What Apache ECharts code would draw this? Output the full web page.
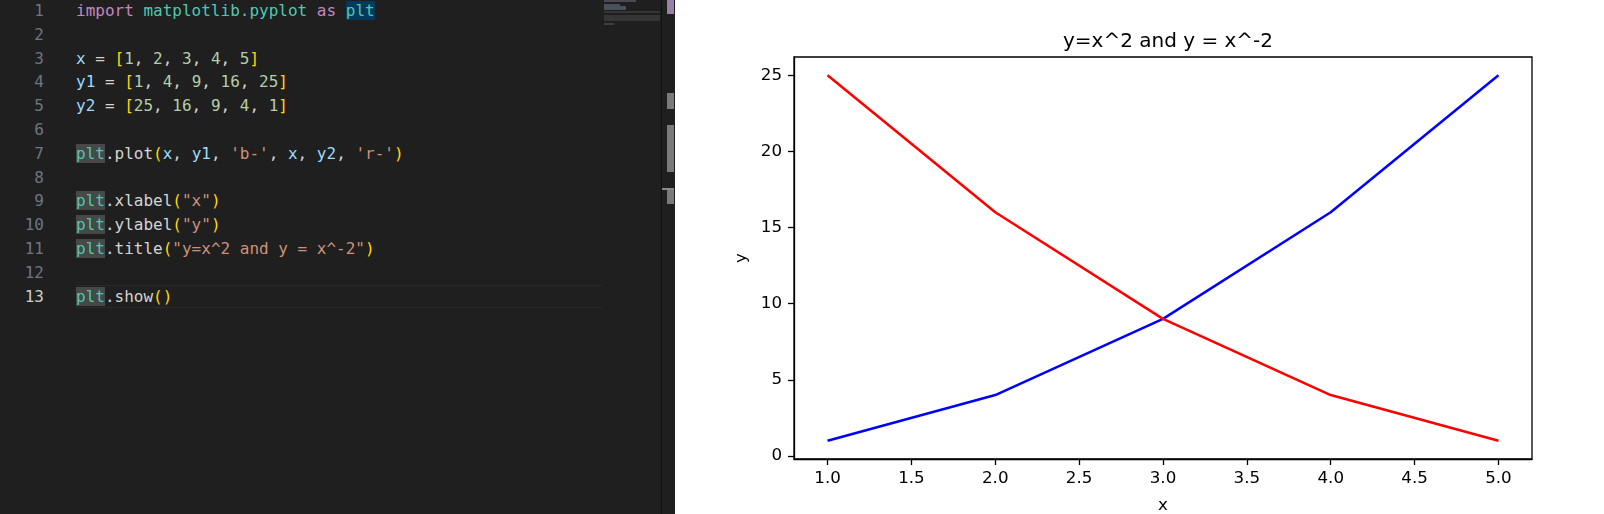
<!DOCTYPE html>
<html>
<head>
<meta charset="utf-8">
<script src="https://cdn.jsdelivr.net/npm/echarts@6/dist/echarts.min.js"></script>
<style>
  html, body { margin: 0; padding: 0; width: 1604px; height: 514px; overflow: hidden; background: #fff; }
  .editor { position: absolute; left: 0; top: 0; width: 675px; height: 514px; background: #1f1f1f; overflow: hidden; }
  .code { position: absolute; left: 0; top: -1px; font-family: "DejaVu Sans Mono", monospace; font-size: 16px; color: #d4d4d4; }
  .line { position: relative; height: 23.8px; line-height: 23.8px; white-space: pre; }
  .ln { position: absolute; left: 0; width: 44px; text-align: right; color: #6e7681; }
  .txt { position: absolute; left: 76px; }
  .cur { position: absolute; left: 76px; width: 526px; top: 0; height: 21px; border-top: 1px solid #2a2a2a; border-bottom: 1px solid #2a2a2a; }
  .kw { color: #c586c0; }
  .mod { color: #4ec9b0; }
  .v { color: #9cdcfe; }
  .n { color: #b5cea8; }
  .s { color: #ce9178; }
  .b { color: #ffd700; }
  .hl { background: #04395e; }
  .occ { background: #484848; }
  .mini { position: absolute; height: 2px; }
  .bar { position: absolute; left: 667px; width: 7px; background: #7a7a7a; }
  #chart { position: absolute; left: 675px; top: 0; width: 929px; height: 514px; }
</style>
</head>
<body>
<div class="editor">
  <div class="code">
    <div class="line"><span class="ln">1</span><span class="txt"><span class="kw">import</span> <span class="mod">matplotlib.pyplot</span> <span class="kw">as</span> <span class="mod hl">plt</span></span></div>
    <div class="line"><span class="ln">2</span></div>
    <div class="line"><span class="ln">3</span><span class="txt"><span class="v">x</span> = <span class="b">[</span><span class="n">1</span>, <span class="n">2</span>, <span class="n">3</span>, <span class="n">4</span>, <span class="n">5</span><span class="b">]</span></span></div>
    <div class="line"><span class="ln">4</span><span class="txt"><span class="v">y1</span> = <span class="b">[</span><span class="n">1</span>, <span class="n">4</span>, <span class="n">9</span>, <span class="n">16</span>, <span class="n">25</span><span class="b">]</span></span></div>
    <div class="line"><span class="ln">5</span><span class="txt"><span class="v">y2</span> = <span class="b">[</span><span class="n">25</span>, <span class="n">16</span>, <span class="n">9</span>, <span class="n">4</span>, <span class="n">1</span><span class="b">]</span></span></div>
    <div class="line"><span class="ln">6</span></div>
    <div class="line"><span class="ln">7</span><span class="txt"><span class="mod occ">plt</span>.plot<span class="b">(</span><span class="v">x</span>, <span class="v">y1</span>, <span class="s">'b-'</span>, <span class="v">x</span>, <span class="v">y2</span>, <span class="s">'r-'</span><span class="b">)</span></span></div>
    <div class="line"><span class="ln">8</span></div>
    <div class="line"><span class="ln">9</span><span class="txt"><span class="mod occ">plt</span>.xlabel<span class="b">(</span><span class="s">"x"</span><span class="b">)</span></span></div>
    <div class="line"><span class="ln">10</span><span class="txt"><span class="mod occ">plt</span>.ylabel<span class="b">(</span><span class="s">"y"</span><span class="b">)</span></span></div>
    <div class="line"><span class="ln">11</span><span class="txt"><span class="mod occ">plt</span>.title<span class="b">(</span><span class="s">"y=x^2 and y = x^-2"</span><span class="b">)</span></span></div>
    <div class="line"><span class="ln">12</span></div>
    <div class="line"><span class="cur"></span><span class="ln" style="color:#cccccc">13</span><span class="txt"><span class="mod occ">plt</span>.show<span class="b">()</span></span></div>
  </div>
  <!-- minimap -->
  <div class="mini" style="left:604px;top:0;width:32px;background:#4e4654;"></div>
  <div class="mini" style="left:604px;top:4px;width:16px;background:#48525c;"></div>
  <div class="mini" style="left:604px;top:6px;width:22px;background:#48525c;"></div>
  <div class="mini" style="left:604px;top:8px;width:22px;background:#48525c;"></div>
  <div class="mini" style="left:604px;top:11px;width:56px;background:#353535;"></div>
  <div class="mini" style="left:604px;top:15px;width:56px;height:6px;background:#353535;"></div>
  <div class="mini" style="left:604px;top:23px;width:10px;background:#3e3e3e;"></div>
  <!-- scrollbar -->
  <div style="position:absolute;left:661px;top:0;width:1px;height:514px;background:#111;"></div>
  <div class="bar" style="top:0;height:14px;background:#9a7fa6;"></div>
  <div class="bar" style="top:93px;height:16px;"></div>
  <div class="bar" style="top:125px;height:47px;"></div>
  <div class="bar" style="top:188px;height:16px;"></div>
  <div style="position:absolute;left:662px;top:188px;width:12px;height:2px;background:#8a8a8a;"></div>
</div>
<div id="chart"></div>
<script>
  const xValues = [1, 2, 3, 4, 5];
  const y1Values = [1, 4, 9, 16, 25];
  const y2Values = [25, 16, 9, 4, 1];
  const xTicks = [1.0, 1.5, 2.0, 2.5, 3.0, 3.5, 4.0, 4.5, 5.0];
  const yTicks = [0, 5, 10, 15, 20, 25];

  const font = "DejaVu Sans";
  const chart = echarts.init(document.getElementById("chart"));
  const option = {
    animation: false,
    title: {
      text: "y=x^2 and y = x^-2",
      left: 488,
      top: 27,
      textAlign: "center",
      textStyle: { fontFamily: font, fontSize: 20, fontWeight: "normal", color: "#000" }
    },
    grid: {
      left: 119,
      right: 72,
      top: 57,
      bottom: 55,
      outerBoundsMode: "none",
      containLabel: false,
      show: true,
      borderColor: "#000",
      borderWidth: 1.3
    },
    xAxis: {
      type: "value",
      min: 0.8,
      max: 5.2,
      name: "x",
      nameLocation: "middle",
      nameGap: 38,
      nameTextStyle: { fontFamily: font, fontSize: 16.7, color: "#000" },
      splitLine: { show: false },
      axisLine: { show: true, onZero: false, lineStyle: { color: "#000", width: 1.3 } },
      axisTick: { show: true, inside: false, length: 6, customValues: xTicks, lineStyle: { color: "#000", width: 1.3 } },
      axisLabel: {
        customValues: xTicks,
        margin: 11,
        fontFamily: font,
        fontSize: 16.7,
        color: "#000",
        formatter: (v) => v.toFixed(1)
      }
    },
    yAxis: {
      type: "value",
      min: -0.2,
      max: 26.2,
      name: "y",
      nameLocation: "middle",
      nameGap: 42,
      nameRotate: 90,
      nameTextStyle: { fontFamily: font, fontSize: 16.7, color: "#000" },
      splitLine: { show: false },
      axisLine: { show: true, onZero: false, lineStyle: { color: "#000", width: 1.3 } },
      axisTick: { show: true, inside: false, length: 6, customValues: yTicks, lineStyle: { color: "#000", width: 1.3 } },
      axisLabel: {
        customValues: yTicks,
        margin: 12,
        fontFamily: font,
        fontSize: 16.7,
        color: "#000"
      }
    },
    series: [
      {
        type: "line",
        data: xValues.map((x, i) => [x, y1Values[i]]),
        showSymbol: false,
        lineStyle: { color: "#0000ff", width: 2.5 },
        itemStyle: { color: "#0000ff" }
      },
      {
        type: "line",
        data: xValues.map((x, i) => [x, y2Values[i]]),
        showSymbol: false,
        lineStyle: { color: "#ff0000", width: 2.5 },
        itemStyle: { color: "#ff0000" }
      }
    ]
  };
  chart.setOption(option);
</script>
</body>
</html>
